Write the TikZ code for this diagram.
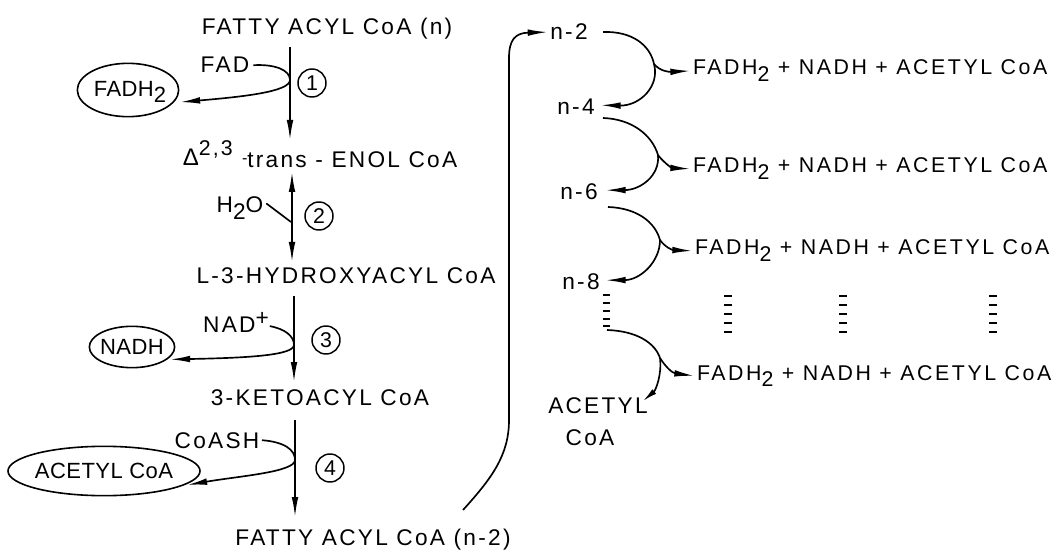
\documentclass[tikz,border=0pt]{standalone}
\usepackage{fontspec}
\setmainfont{Liberation Sans}[LetterSpace=10]
\newfontfamily\prodfont{Liberation Sans}[LetterSpace=12]
\newfontfamily\ovalfont{Liberation Sans}[LetterSpace=2]
\usetikzlibrary{arrows.meta,shapes.geometric}

\begin{document}
\begin{tikzpicture}[x=0.75pt,y=-0.75pt,
  line width=1.25pt,
  every node/.style={inner sep=0pt,outer sep=0pt},
  lbl/.style={font=\fontsize{17}{19}\selectfont,anchor=base},
  inlbl/.style={font=\ovalfont\fontsize{16.5}{19}\selectfont,anchor=center},
  prod/.style={font=\prodfont\fontsize{16}{18}\selectfont,anchor=base west},
  arr/.style={-{Latex[length=15pt,width=5pt]}},
  sharr/.style={-{Latex[length=11pt,width=4.5pt]}},
  dbl/.style={{Latex[length=15pt,width=5pt]}-{Latex[length=15pt,width=5pt]}},
  stepnum/.style={circle,draw,line width=1.1pt,minimum size=21pt,font=\fontsize{16}{16}\selectfont},
  oval/.style={ellipse,draw,line width=1.2pt},
  dots/.style={line width=1.4pt},
]
\useasboundingbox (0,0) rectangle (1063,552);

% ---------- beta-oxidation spiral: intermediates ----------
\node[lbl] (t0) at (327,35)  {FATTY ACYL CoA (n)};
\node[lbl] (t1) at (320,168) {\raisebox{1.5pt}{\fontsize{18}{18}\selectfont Δ}\raisebox{9pt}{\fontsize{16}{16}\selectfont 2,3}\hspace{7pt}\raisebox{3pt}{\fontsize{12}{12}\selectfont -}trans - ENOL CoA};
\node[lbl] (t2) at (346,283) {L-3-HYDROXYACYL CoA};
\node[lbl] (t3) at (320,405) {3-KETOACYL CoA};
\node[lbl] (t4) at (373,545) {FATTY ACYL CoA (n-2)};

% ---------- cofactors ----------
\node[lbl] (fad)  at (225,73)  {FAD};
\node[lbl] (h2o)  at (240,213) {H\raisebox{-5pt}{2}O};
\node[lbl] (nad)  at (236,332) {NAD\raisebox{5pt}{+}};
\node[lbl] (coash) at (217,448) {CoASH};

\node[oval,minimum width=76pt,minimum height=40pt] (fadh) at (128,90) {};
\node[inlbl] (fadht) at ([shift={(2,2)}]fadh.center) {FADH\raisebox{-5pt}{2}};
\node[oval,minimum width=64pt,minimum height=31pt] (nadh) at (132,347) {};
\node[inlbl] (nadht) at (nadh.center) {NADH};
\node[oval,minimum width=144pt,minimum height=37pt] (acoa) at (104,471) {};
\node[inlbl] (acoat) at (acoa.center) {ACETYL CoA};

% ---------- step numbers ----------
\node[stepnum] (c1) at (312,83)  {1};
\node[stepnum] (c2) at (319,216) {2};
\node[stepnum] (c3) at (326,340) {3};
\node[stepnum] (c4) at (330,468) {4};

% ---------- main reaction arrows ----------
\coordinate (p1a) at (290,47);  \coordinate (p1b) at (290,140);
\coordinate (p2a) at (292,172); \coordinate (p2b) at (292,262);
\coordinate (p3a) at (294,296); \coordinate (p3b) at (294,382);
\coordinate (p4a) at (295,420); \coordinate (p4b) at (295,517);
\draw[arr] (p1a) -- (p1b);
\draw[dbl] (p2a) -- (p2b);
\draw[arr] (p3a) -- (p3b);
\draw[arr] (p4a) -- (p4b);

% ---------- cofactor loops ----------
\coordinate (j1) at (290,80);
\draw[arr] ([xshift=3pt]fad.east) .. controls (275,64) and (290,70) .. (j1)
  .. controls (290,92) and (240,97) .. ([shift={(7,0)}]fadh.-15);
\coordinate (j2) at (291,222);
\draw ([shift={(3,-5)}]h2o.east) -- (j2);
\coordinate (j3) at (294,345);
\draw[arr] ([shift={(1,4)}]nad.east) .. controls (285,329) and (294,336) .. (j3)
  .. controls (294,356) and (240,358) .. ([shift={(4,0)}]nadh.-20);
\coordinate (j4) at (295,460);
\draw[arr] ([xshift=2pt]coash.east) .. controls (285,442) and (295,450) .. (j4)
  .. controls (295,472) and (240,476) .. ([shift={(4,0)}]acoa.-10);

% ---------- repeated cycles ----------
\node[lbl] (n2) at (569,40)  {n-2};
\node[lbl] (n4) at (576,115) {n-4};
\node[lbl] (n6) at (579,200) {n-6};
\node[lbl] (n8) at (581,290) {n-8};
\node[lbl] (ac) at (598,413) {ACETYL};
\node[lbl] (coa) at (590,445) {CoA};

\node[prod] (f1) at (693,75)  {FADH\raisebox{-5pt}{2} + NADH + ACETYL CoA};
\node[prod] (f2) at (693,173) {FADH\raisebox{-5pt}{2} + NADH + ACETYL CoA};
\node[prod] (f3) at (695,255) {FADH\raisebox{-5pt}{2} + NADH + ACETYL CoA};
\node[prod] (f4) at (697,380) {FADH\raisebox{-5pt}{2} + NADH + ACETYL CoA};

\coordinate (r1) at (603,32);  \coordinate (k1) at (654,64);
\coordinate (r2) at (603,118); \coordinate (k2) at (658,155);
\coordinate (r3) at (608,207); \coordinate (k3) at (660,240);
\coordinate (r4) at (607,330); \coordinate (k4) at (660,358);
\coordinate (actip) at (643,401);

\draw (r1) .. controls (632,31) and (650,45) .. (k1);
\draw[arr] (k1) .. controls (660,71) and (668,72) .. ([xshift=-2pt]f1.west);
\draw[arr] (k1) .. controls (660,86) and (640,106) .. ([shift={(6,-2)}]n4.east);

\draw (r2) .. controls (632,119) and (652,135) .. (k2);
\draw[arr] (k2) .. controls (663,162) and (672,168) .. ([xshift=-2pt]f2.west);
\draw[arr] (k2) .. controls (660,176) and (640,190) .. ([shift={(8,-2)}]n6.east);

\draw (r3) .. controls (637,208) and (655,222) .. (k3);
\draw[arr] (k3) .. controls (665,247) and (672,250) .. ([xshift=-2pt]f3.west);
\draw[arr] (k3) .. controls (660,262) and (640,280) .. ([shift={(6,-2)}]n8.east);

\draw (r4) .. controls (637,331) and (655,343) .. (k4);
\draw[arr] (k4) .. controls (665,366) and (672,373) .. ([xshift=-2pt]f4.west);
\draw[sharr] (k4) .. controls (662,374) and (656,390) .. (actip);

% dotted continuation marks
\foreach \x in {728,843,993}
  \foreach \y in {296,305,314,323,332}
    \draw[dots] (\x-4,\y) -- (\x+4,\y);
\foreach \y in {295,303,311,319,326}
  \draw[dots] (603,\y) -- (610,\y);

% ---------- feed of the shortened acyl CoA into the next cycle ----------
\coordinate (back) at (463,510);
\draw[arr] (back) .. controls (492,478) and (509,455) .. (509,420) -- (509,58)
  .. controls (509,40) and (515,33) .. ([xshift=-2pt]n2.west);
\end{tikzpicture}
\end{document}
